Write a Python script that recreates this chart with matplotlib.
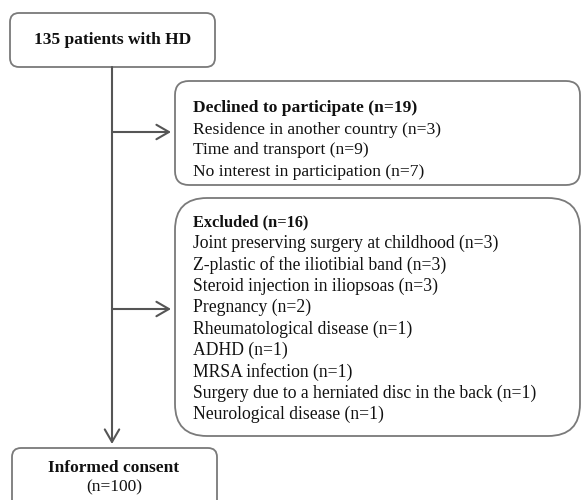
import matplotlib
matplotlib.use("Agg")
import matplotlib.pyplot as plt
from matplotlib.patches import FancyBboxPatch, FancyArrowPatch

total_patients = 135
declined_total = 19
declined_reasons = ["Residence in another country", "Time and transport", "No interest in participation"]
declined_counts = [3, 9, 7]
excluded_total = 16
excluded_reasons = ["Joint preserving surgery at childhood", "Z-plastic of the iliotibial band",
                    "Steroid injection in iliopsoas", "Pregnancy", "Rheumatological disease",
                    "ADHD", "MRSA infection", "Surgery due to a herniated disc in the back",
                    "Neurological disease"]
excluded_counts = [3, 3, 3, 2, 1, 1, 1, 1, 1]
consent_total = 100

W, H = 581, 500
fig = plt.figure(figsize=(W / 100, H / 100), dpi=100)
ax = fig.add_axes([0, 0, 1, 1])
ax.set_xlim(0, W)
ax.set_ylim(H, 0)
ax.axis("off")

FONT = "Liberation Serif"
edge = "#7a7a7a"
line_c = "#555555"
txt_c = "#111111"

def rbox(x0, y0, x1, y1, r):
    p = FancyBboxPatch((x0, y0), x1 - x0, y1 - y0,
                       boxstyle=f"round,pad=0,rounding_size={r}",
                       fc="white", ec=edge, lw=1.3)
    ax.add_patch(p)

# boxes
rbox(10, 13, 215, 67, 9)
rbox(175, 81, 580, 185, 14)
rbox(175, 198, 580, 436, 32)
rbox(12, 448, 217, 520, 9)

# main flow line and arrows
cx = 112
arrow_kw = dict(arrowstyle="->,head_length=0.45,head_width=0.26", mutation_scale=20,
                color=line_c, lw=1.5, shrinkA=0, shrinkB=0)
ax.add_patch(FancyArrowPatch((cx, 67), (cx, 444), **arrow_kw))
ax.add_patch(FancyArrowPatch((cx, 132), (171, 132), **arrow_kw))
ax.add_patch(FancyArrowPatch((cx, 309), (171, 309), **arrow_kw))

# texts
ax.text(cx + 1, 40, f"{total_patients} patients with HD", fontfamily=FONT, fontweight="bold",
        fontsize=12.5, ha="center", va="center", color=txt_c)

tx = 193
ax.text(tx, 108.5, f"Declined to participate (n={declined_total})", fontfamily=FONT,
        fontweight="bold", fontsize=12.6, ha="left", va="center", color=txt_c)
for i, (r, c) in enumerate(zip(declined_reasons, declined_counts)):
    ax.text(tx, 129.5 + i * 21, f"{r} (n={c})", fontfamily=FONT, fontsize=12.6,
            ha="left", va="center", color=txt_c)

ax.text(tx, 222, f"Excluded (n={excluded_total})", fontfamily=FONT,
        fontweight="bold", fontsize=11.8, ha="left", va="center", color=txt_c)
for i, (r, c) in enumerate(zip(excluded_reasons, excluded_counts)):
    ax.text(tx, 243.5 + i * 21.4, f"{r} (n={c})", fontfamily=FONT, fontsize=12.7,
            ha="left", va="center", color=txt_c)

ax.text(cx + 2, 468, "Informed consent", fontfamily=FONT, fontweight="bold",
        fontsize=12.5, ha="center", va="center", color=txt_c)
ax.text(cx + 2, 487, f"(n={consent_total})", fontfamily=FONT,
        fontsize=12.5, ha="center", va="center", color=txt_c)

fig.savefig("out.png", dpi=100)
